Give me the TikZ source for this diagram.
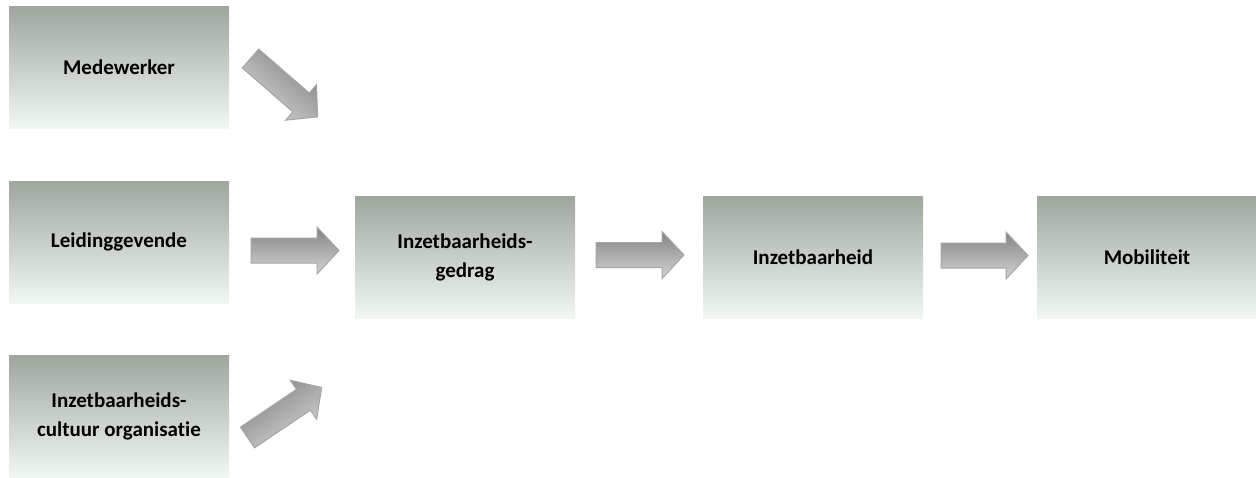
\documentclass[tikz,border=0pt]{standalone}
\usepackage{fontspec}
\setmainfont{Carlito}[Ligatures=NoCommon]
\definecolor{boxtop}{RGB}{158,166,158}
\definecolor{boxmid}{RGB}{212,219,212}
\definecolor{boxbot}{RGB}{241,247,241}
\definecolor{arrdark}{RGB}{132,132,132}
\definecolor{arrlight}{RGB}{212,212,212}
\definecolor{arredge}{RGB}{165,165,165}
\newcommand\blockarr[4]{%
  \draw[arrstyle, shading angle=#3] [shift={(#1,#2)}, rotate=#3]
    (0,-12.5) -- (#4-22,-12.5) -- (#4-22,-23.5) -- (#4,0) -- (#4-22,23.5) -- (#4-22,12.5) -- (0,12.5) -- cycle;}
\begin{document}
\begin{tikzpicture}[x=1pt,y=-1pt,
  box/.style={rectangle, minimum width=220pt, minimum height=122pt,
    top color=boxtop, middle color=boxmid, bottom color=boxbot, draw=none,
    font=\bfseries\fontsize{21}{29}\selectfont, align=center, inner sep=0pt},
  arrstyle/.style={draw=arredge, line width=1pt, line join=miter,
    top color=arrdark, bottom color=arrlight}]
\useasboundingbox (0,0) rectangle (1256,477);
\node[box] (med) at (119,67) {Medewerker};
\node[box] (lei) at (119,242) {Leidinggevende};
\node[box] (cul) at (119,416) {Inzetbaarheids-\\cultuur organisatie};
\node[box] (ged) at (465,257) {Inzetbaarheids-\\gedrag};
\node[box] (inz) at (813,257) {Inzetbaarheid};
\node[box] (mob) at (1147,257) {Mobiliteit};
\blockarr{250.5}{58.5}{-41}{89}
\blockarr{251}{250.5}{0}{88}
\blockarr{247.5}{437.5}{34}{89.5}
\blockarr{596}{255}{0}{88}
\blockarr{941}{255.5}{0}{87}
\end{tikzpicture}
\end{document}
